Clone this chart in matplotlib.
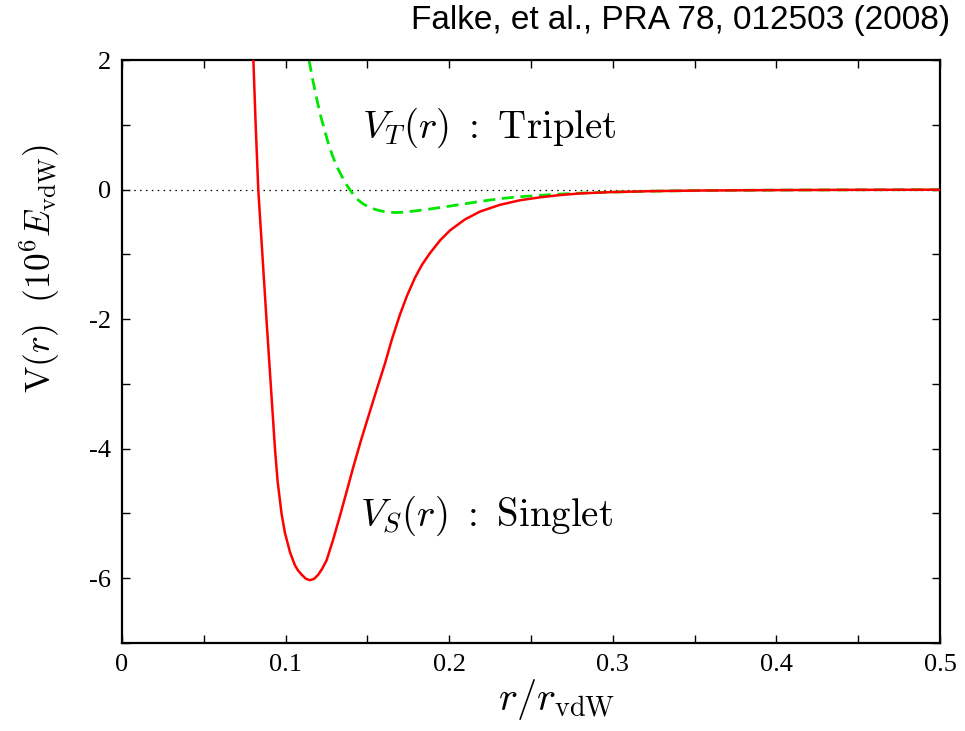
import matplotlib
matplotlib.use("Agg")
import matplotlib.pyplot as plt
from matplotlib.ticker import MultipleLocator

plt.rcParams['mathtext.fontset'] = 'cm'
plt.rcParams['font.family'] = ['Liberation Serif', 'DejaVu Serif']

# singlet potential (r / r_vdW, V in 1e6 E_vdW)
r_singlet = [0.0803, 0.0817, 0.0833, 0.0858, 0.0883, 0.0909, 0.0935, 0.0951,
             0.0975, 0.0996, 0.1027, 0.1057, 0.1076, 0.1100, 0.1125, 0.1149,
             0.1174, 0.1198, 0.1222, 0.1251, 0.1290, 0.1333, 0.1369, 0.1412,
             0.1461, 0.1516, 0.1559, 0.1608, 0.1650, 0.1699, 0.1742, 0.1791,
             0.1834, 0.1883, 0.1944, 0.2005, 0.2097, 0.2188, 0.2311, 0.2433,
             0.2555, 0.2677, 0.2800, 0.2983, 0.3227, 0.3533, 0.4022, 0.4511,
             0.5000]
v_singlet = [2.00, 1.00, 0.00, -1.00, -2.00, -3.00, -4.00, -4.50,
             -5.00, -5.30, -5.60, -5.80, -5.88, -5.95, -6.01, -6.03,
             -6.01, -5.95, -5.86, -5.72, -5.41, -5.03, -4.70, -4.30,
             -3.87, -3.42, -3.07, -2.68, -2.31, -1.93, -1.64, -1.36,
             -1.16, -0.98, -0.785, -0.63, -0.46, -0.34, -0.235, -0.165,
             -0.12, -0.085, -0.06, -0.04, -0.025, -0.015, -0.008, -0.004,
             -0.002]

# triplet potential
r_triplet = [0.1143, 0.1167, 0.1192, 0.1216, 0.1241, 0.1265, 0.1290, 0.1320,
             0.1351, 0.1381, 0.1412, 0.1443, 0.1473, 0.1516, 0.1565, 0.1614,
             0.1669, 0.1724, 0.1791, 0.1883, 0.2005, 0.2170, 0.2311, 0.2433,
             0.2555, 0.2677, 0.2800, 0.2983, 0.3227, 0.3533, 0.4022, 0.4511,
             0.5000]
v_triplet = [2.00, 1.68, 1.38, 1.12, 0.89, 0.68, 0.50, 0.32,
             0.17, 0.04, -0.07, -0.16, -0.22, -0.28, -0.32, -0.345,
             -0.355, -0.35, -0.33, -0.30, -0.255, -0.19, -0.14, -0.11,
             -0.09, -0.07, -0.055, -0.04, -0.025, -0.015, -0.008, -0.004,
             -0.002]

x_ticks = [0, 0.1, 0.2, 0.3, 0.4, 0.5]
x_ticklabels = ['0', '0.1', '0.2', '0.3', '0.4', '0.5']
y_ticks = [2, 0, -2, -4, -6]
y_ticklabels = ['2', '0', '-2', '-4', '-6']

fig = plt.figure(figsize=(9.65, 7.31), dpi=100)
ax = fig.add_axes([122 / 965, 88 / 731, 818 / 965, 583 / 731])

ax.axhline(0, color='black', lw=0.9, linestyle=(0, (1.2, 3.5)), zorder=1)
ax.plot(r_singlet, v_singlet, color='#ff0000', lw=1.8, zorder=3,
        solid_joinstyle='round')
ax.plot(r_triplet, v_triplet, color='#00e600', lw=2.0,
        linestyle=(0, (4.3, 2.4)), zorder=2)

ax.set_xlim(0, 0.5)
ax.set_ylim(-7, 2)
ax.set_xticks(x_ticks)
ax.set_xticklabels(x_ticklabels)
ax.set_yticks(y_ticks)
ax.set_yticklabels(y_ticklabels)
ax.xaxis.set_minor_locator(MultipleLocator(0.05))
ax.yaxis.set_minor_locator(MultipleLocator(1))
ax.tick_params(which='both', direction='in', top=True, right=True,
               length=6, width=1.0, labelsize=19)
ax.tick_params(axis='x', pad=8)
ax.tick_params(axis='y', pad=8)
for s in ax.spines.values():
    s.set_linewidth(1.6)

ax.text(0.1467, 0.96, r'$V_T(r)\ :\ \mathrm{Triplet}$', fontsize=28,
        ha='left', va='center')
ax.text(0.1455, -5.03, r'$V_S(r)\ :\ \mathrm{Singlet}$', fontsize=28,
        ha='left', va='center')

fig.text(40 / 965, 1 - 268 / 731, r'$\mathrm{V}(r)\ \ (10^6 E_{\rm vdW})$',
         fontsize=25.5, rotation=90, ha='center', va='center')
fig.text(557 / 965, 1 - 700 / 731, r'$r/r_{\rm vdW}$', fontsize=29,
         ha='center', va='center')
fig.text(950 / 965, 1 - 20 / 731, 'Falke, et al., PRA 78, 012503 (2008)',
         fontsize=24, family='Liberation Sans', ha='right', va='center')

fig.savefig('out.png', dpi=100)
